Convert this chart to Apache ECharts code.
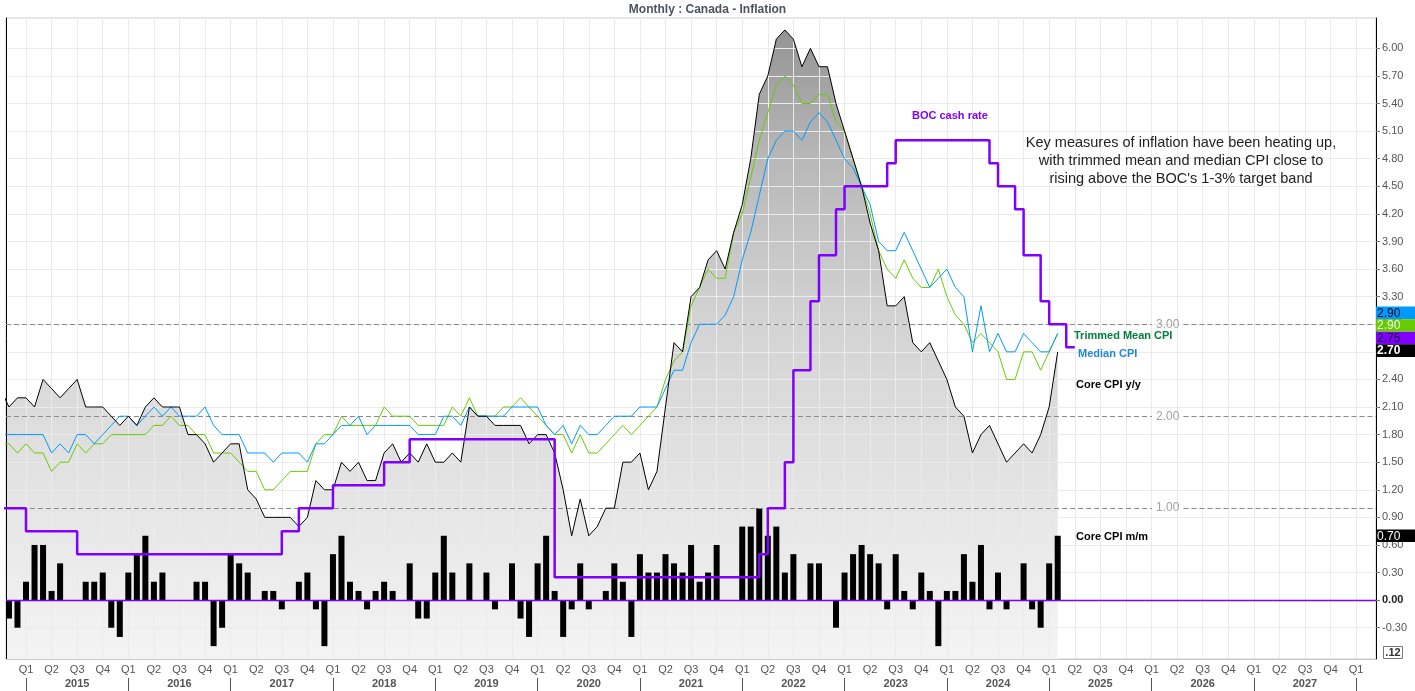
<!DOCTYPE html>
<html><head><meta charset="utf-8">
<script src="https://cdn.jsdelivr.net/npm/echarts@6/dist/echarts.min.js"></script>
<style>html,body{margin:0;padding:0;background:#fff}#c{width:1415px;height:691px}</style>
</head><body><div id="c"></div>
<script>
// ---- data (monthly, first entry = Oct 2014) ----
const startYear = 2014, startMonth = 10;
const coreYoY = [2.3,2.1,2.2,
 2.2,2.1,2.4,2.3,2.2,2.3,2.4,2.1,2.1,2.1,2.0,1.9,
 2.0,1.9,2.1,2.2,2.1,2.1,2.1,1.8,1.8,1.7,1.5,1.6,
 1.7,1.7,1.2,1.1,0.9,0.9,0.9,0.9,0.8,0.9,1.3,1.2,
 1.2,1.5,1.4,1.5,1.3,1.3,1.6,1.7,1.5,1.6,1.5,1.7,
 1.5,1.5,1.6,1.5,2.1,2.0,2.0,1.9,1.9,1.9,1.9,1.7,
 1.8,1.8,1.6,1.2,0.7,1.1,0.7,0.8,1.0,1.0,1.5,1.5,
 1.6,1.2,1.4,2.1,2.8,2.7,3.3,3.4,3.7,3.8,3.6,4.0,
 4.3,4.8,5.5,5.7,6.1,6.2,6.1,5.8,6.0,5.8,5.8,5.4,
 5.1,4.8,4.5,4.1,3.8,3.2,3.2,3.3,2.8,2.7,2.8,2.6,
 2.4,2.1,2.0,1.6,1.8,1.9,1.7,1.5,1.6,1.7,1.6,1.8,
 2.1,2.7];
const trimmedMean = [1.7,1.7,1.6,
 1.7,1.6,1.6,1.4,1.5,1.5,1.7,1.6,1.7,1.7,1.8,1.8,
 1.8,1.8,1.8,1.9,1.9,2.0,1.9,1.9,1.8,1.8,1.6,1.6,
 1.6,1.5,1.4,1.4,1.2,1.2,1.3,1.4,1.4,1.4,1.7,1.8,
 1.8,2.0,1.9,1.9,1.9,1.9,2.1,2.0,2.0,2.0,1.9,1.9,
 1.9,1.9,2.1,2.0,2.2,2.0,2.0,2.0,2.1,2.1,2.2,2.1,
 2.0,1.9,1.8,1.8,1.6,1.8,1.6,1.6,1.7,1.8,1.9,1.8,
 1.9,2.0,2.1,2.4,2.6,2.7,3.2,3.4,3.6,3.5,3.5,4.0,
 4.2,4.6,5.0,5.3,5.6,5.7,5.6,5.4,5.4,5.5,5.5,5.2,
 5.1,4.8,4.5,4.2,3.8,3.6,3.5,3.7,3.5,3.4,3.4,3.6,
 3.3,3.1,3.0,2.8,2.9,2.8,2.7,2.4,2.4,2.7,2.7,2.5,
 2.7,2.9];
const medianCPI = [1.8,1.8,1.8,
 1.8,1.8,1.8,1.6,1.7,1.6,1.8,1.8,1.7,1.8,1.9,2.0,
 2.0,1.9,2.0,2.1,2.0,2.1,2.0,2.0,2.0,2.1,1.9,1.8,
 1.8,1.8,1.6,1.6,1.6,1.5,1.6,1.6,1.6,1.5,1.7,1.7,
 1.8,1.9,1.9,2.0,1.8,1.9,1.9,1.9,1.9,1.9,1.8,1.8,
 1.8,2.0,2.0,1.9,2.1,2.0,2.0,2.0,2.0,2.1,2.1,2.1,
 2.1,1.9,1.8,1.9,1.7,1.9,1.8,1.8,1.9,2.0,2.0,2.0,
 2.1,2.1,2.1,2.3,2.5,2.5,2.8,3.0,3.0,3.0,3.1,3.3,
 3.7,4.0,4.4,4.8,5.0,5.1,5.1,5.0,5.2,5.3,5.2,5.0,
 4.8,4.7,4.5,4.3,3.9,3.8,3.8,4.0,3.8,3.6,3.4,3.5,
 3.6,3.4,3.3,2.7,3.2,2.7,2.9,2.7,2.7,2.9,2.8,2.7,
 2.7,2.9];
const coreMoM = [null,-0.2,-0.3,
 0.2,0.6,0.6,0.1,0.4,0,0,0.2,0.2,0.3,-0.3,-0.4,
 0.3,0.5,0.7,0.2,0.3,0,0,0,0.2,0.2,-0.5,-0.3,
 0.5,0.4,0.3,0,0.1,0.1,-0.1,0,0.2,0.3,-0.1,-0.5,
 0.5,0.7,0.2,0.1,-0.1,0.1,0.2,0.1,0,0.4,-0.2,-0.2,
 0.3,0.7,0.3,0,0.4,0,0.3,-0.1,0,0.4,-0.2,-0.4,
 0.4,0.7,0.1,-0.4,-0.1,0.4,-0.1,0,0.1,0.4,0.2,-0.4,
 0.5,0.3,0.3,0.5,0.4,0.3,0.6,0.2,0.3,0.6,0,0,
 0.8,0.8,1.0,0.7,0.8,0.3,0.5,0,0.4,0.4,0,-0.3,
 0.3,0.5,0.6,0.5,0.4,-0.1,0.5,0.1,-0.1,0.3,0.1,-0.5,
 0.1,0.1,0.5,0.2,0.6,-0.1,0.3,-0.1,0,0.4,-0.1,-0.3,
 0.4,0.7];
const bocRate = [1.0,1.0,1.0,
 0.75,0.75,0.75,0.75,0.75,0.75,0.5,0.5,0.5,0.5,0.5,0.5,
 0.5,0.5,0.5,0.5,0.5,0.5,0.5,0.5,0.5,0.5,0.5,0.5,
 0.5,0.5,0.5,0.5,0.5,0.5,0.75,0.75,1.0,1.0,1.0,1.0,
 1.25,1.25,1.25,1.25,1.25,1.25,1.5,1.5,1.5,1.75,1.75,1.75,
 1.75,1.75,1.75,1.75,1.75,1.75,1.75,1.75,1.75,1.75,1.75,1.75,
 1.75,1.75,0.25,0.25,0.25,0.25,0.25,0.25,0.25,0.25,0.25,0.25,
 0.25,0.25,0.25,0.25,0.25,0.25,0.25,0.25,0.25,0.25,0.25,0.25,
 0.25,0.25,0.5,1.0,1.0,1.5,2.5,2.5,3.25,3.75,3.75,4.25,
 4.5,4.5,4.5,4.5,4.5,4.75,5.0,5.0,5.0,5.0,5.0,5.0,
 5.0,5.0,5.0,5.0,5.0,4.75,4.5,4.5,4.25,3.75,3.75,3.25,
 3.0,3.0,2.75,2.75];
const targetLines = [3, 2, 1];
const quarterLabels = ['Q1','Q2','Q3','Q4'];
const yearLabels = ['2015','2016','2017','2018','2019','2020','2021','2022','2023','2024','2025','2026','2027'];
const yTicks = [-0.3,0,0.3,0.6,0.9,1.2,1.5,1.8,2.1,2.4,2.7,3.0,3.3,3.6,3.9,4.2,4.5,4.8,5.1,5.4,5.7,6.0];

// month index relative to Jan 2015
const m0 = (startYear - 2015) * 12 + (startMonth - 1);
const toPairs = arr => arr.map((v, i) => [m0 + i, v]).filter(p => p[1] != null);
const quarterTicks = []; for (let q = 0; q <= yearLabels.length * 4; q++) quarterTicks.push(q * 3);
const yearTicks = []; for (let y = 0; y <= yearLabels.length; y++) yearTicks.push(y * 12);
const yearLabelPos = yearLabels.map((_, i) => i * 12 + 6);

const FF = "'Liberation Sans', Arial, sans-serif";
const X_MIN = -2.346, X_MAX = 158.33;
const LABEL_X = 133.9, LABEL_GAP = 1.85;

const chart = echarts.init(document.getElementById('c'));
const option = {
  animation: false,
  backgroundColor: '#ffffff',
  textStyle: { fontFamily: FF },
  title: { text: 'Monthly : Canada - Inflation', left: 'center', top: -1,
    textStyle: { fontSize: 12, fontWeight: 'bold', color: '#4b5263', fontFamily: FF } },
  grid: { left: 6, right: 39, top: 18, bottom: 32, show: true, borderColor: '#cccccc', borderWidth: 1,
    backgroundColor: 'transparent', containLabel: false, outerBoundsMode: 'none' },
  xAxis: [{
    type: 'value', min: X_MIN, max: X_MAX, position: 'bottom', z: 1,
    axisLine: { onZero: false, lineStyle: { color: '#c8c8c8' } },
    axisTick: { show: false, customValues: quarterTicks },
    splitLine: { show: true, lineStyle: { color: '#ebebeb', width: 1 } },
    axisLabel: { customValues: quarterTicks, margin: 5, fontSize: 11, color: '#555', fontFamily: FF,
      formatter: v => quarterLabels[Math.round(v / 3) % 4] }
  }, {
    type: 'value', min: X_MIN, max: X_MAX, position: 'bottom', offset: 19, z: 1,
    axisLine: { show: false, onZero: false },
    axisTick: { show: true, customValues: yearTicks, length: 13, lineStyle: { color: '#555' } },
    splitLine: { show: false },
    axisLabel: { customValues: yearLabelPos, margin: 0, fontSize: 11, fontWeight: 'bold', color: '#555', fontFamily: FF,
      formatter: v => yearLabels[Math.round((v - 6) / 12)] }
  }],
  yAxis: [{
    type: 'value', position: 'right', min: -0.64, max: 6.33, z: 1,
    axisLine: { show: true, onZero: false, lineStyle: { color: '#000' } },
    axisTick: { show: true, customValues: yTicks, length: 4, lineStyle: { color: '#777' } },
    splitLine: { show: true, lineStyle: { color: '#ebebeb', width: 1 } },
    axisLabel: { customValues: yTicks, margin: 6, fontSize: 11, color: '#555', fontFamily: FF,
      formatter: v => Math.abs(v) < 1e-9 ? '{z|0.00}' : v.toFixed(2),
      rich: { z: { fontWeight: 'bold', color: '#222', fontSize: 11, fontFamily: FF } } }
  }, {
    type: 'value', position: 'left', min: -0.64, max: 6.33, z: 1,
    axisLine: { show: true, onZero: false, lineStyle: { color: '#000' } },
    axisTick: { show: false }, axisLabel: { show: false }, splitLine: { show: false }
  }],
  series: [
    { name: 'area', type: 'line', data: toPairs(coreYoY), z: 0, showSymbol: false, silent: true,
      lineStyle: { width: 0, opacity: 0 },
      areaStyle: { origin: 'start', opacity: 1,
        color: new echarts.graphic.LinearGradient(0, 0, 0, 1, [
          { offset: 0, color: '#949494' }, { offset: 0.2, color: '#b7b7b7' },
          { offset: 0.45, color: '#d2d2d2' }, { offset: 0.62, color: '#dddddd' },
          { offset: 0.8, color: '#e8e8e8' }, { offset: 1, color: '#f4f4f4' }]) } },
    { name: 'Core CPI m/m', type: 'bar', data: toPairs(coreMoM), barWidth: 6, z: 2,
      itemStyle: { color: '#000' },
      markLine: { silent: true, symbol: 'none', label: { show: false },
        lineStyle: { color: '#8000ff', type: 'solid', width: 1.3 }, data: [{ yAxis: 0 }] } },
    { name: 'targets', type: 'line', data: [], z: 3,
      markLine: { silent: true, symbol: 'none', label: { show: false },
        lineStyle: { color: '#8a8a8a', type: [5, 3], width: 1 },
        data: targetLines.flatMap(v => [
          [{ coord: [X_MIN, v] }, { coord: [LABEL_X - LABEL_GAP, v] }],
          [{ coord: [LABEL_X + LABEL_GAP, v] }, { coord: [X_MAX, v] }]
        ]) } },
    { name: 'targetLabels', type: 'scatter', z: 4, symbolSize: 0, silent: true,
      data: targetLines.map(v => [LABEL_X, v]),
      label: { show: true, position: 'inside', formatter: p => p.value[1].toFixed(2),
        color: '#8a8a8a', fontSize: 12, fontFamily: FF } },
    { name: 'Trimmed Mean CPI', type: 'line', data: toPairs(trimmedMean), z: 5, showSymbol: false,
      lineStyle: { color: '#66cc00', width: 1 } },
    { name: 'Median CPI', type: 'line', data: toPairs(medianCPI), z: 5, showSymbol: false,
      lineStyle: { color: '#0099ff', width: 1 } },
    { name: 'Core CPI y/y', type: 'line', data: toPairs(coreYoY), z: 6, showSymbol: false,
      lineStyle: { color: '#000', width: 1 } },
    { name: 'BOC cash rate', type: 'line', data: toPairs(bocRate), z: 7, showSymbol: false, step: 'end',
      lineStyle: { color: '#8000ff', width: 2.5 } }
  ]
};
chart.setOption(option);

// ---- right-axis value tags ----
function lastVal(arr) { for (let i = arr.length - 1; i >= 0; i--) if (arr[i] != null) return arr[i]; }
const gridRight = chart.convertToPixel({ xAxisIndex: 0 }, X_MAX);
const tagH = 12.6;
const tags = [
  { v: lastVal(medianCPI), bg: '#0099ff', fg: '#0a0a14', bold: false },
  { v: lastVal(trimmedMean), bg: '#66cc00', fg: '#f2fff0', bold: false },
  { v: lastVal(bocRate), bg: '#8000ff', fg: '#14081f', bold: false },
  { v: lastVal(coreYoY), bg: '#000000', fg: '#ffffff', bold: true }
];
tags.forEach((t, i) => { t.y = chart.convertToPixel({ yAxisIndex: 0 }, t.v); t.i = i; });
const order = tags.slice().sort((a, b) => (b.y - a.y) || (b.i - a.i));
order[0].y -= 1.2;
for (let k = 1; k < order.length; k++) order[k].y = Math.min(order[k].y, order[k - 1].y - tagH);
tags.push({ v: lastVal(coreMoM), bg: '#000000', fg: '#ffffff', bold: false,
  y: chart.convertToPixel({ yAxisIndex: 0 }, lastVal(coreMoM)) });

const g = [];
tags.forEach(t => {
  g.push({ type: 'rect', z: 100, shape: { x: gridRight, y: t.y - tagH / 2, width: 40, height: tagH }, style: { fill: t.bg } });
  g.push({ type: 'text', z: 101, x: gridRight + 1, y: t.y + 0.5,
    style: { text: t.v.toFixed(2), fill: t.fg, font: (t.bold ? 'bold ' : '') + '12px ' + FF,
      textAlign: 'left', textVerticalAlign: 'middle', align: 'left', verticalAlign: 'middle' } });
});
function label(txt, x, y, color, font, align) {
  return { type: 'text', z: 50, x: x, y: y,
    style: { text: txt, fill: color, font: font, textAlign: align || 'left', align: align || 'left',
      textVerticalAlign: 'middle', verticalAlign: 'middle' } };
}
const B11 = 'bold 11px ' + FF;
g.push(label('BOC cash rate', 912, 116, '#8000ff', B11));
g.push(label('Trimmed Mean CPI', 1074, 336, '#007f3f', B11));
g.push(label('Median CPI', 1078, 354, '#1e8ad6', B11));
g.push(label('Core CPI y/y', 1076, 385, '#000', B11));
g.push(label('Core CPI m/m', 1076, 537, '#000', B11));
g.push(label('Key measures of inflation have been heating up,', 1181, 143, '#222', '14.5px ' + FF, 'center'));
g.push(label('with trimmed mean and median CPI close to', 1181, 161, '#222', '14.5px ' + FF, 'center'));
g.push(label("rising above the BOC's 1-3% target band", 1181, 179, '#222', '14.5px ' + FF, 'center'));
g.push({ type: 'rect', z: 50, shape: { x: 1383.5, y: 646.5, width: 19, height: 12 }, style: { fill: '#fff', stroke: '#777', lineWidth: 1 } });
g.push(label('.12', 1393, 653, '#333', B11, 'center'));
chart.setOption({ graphic: g });
</script></body></html>
